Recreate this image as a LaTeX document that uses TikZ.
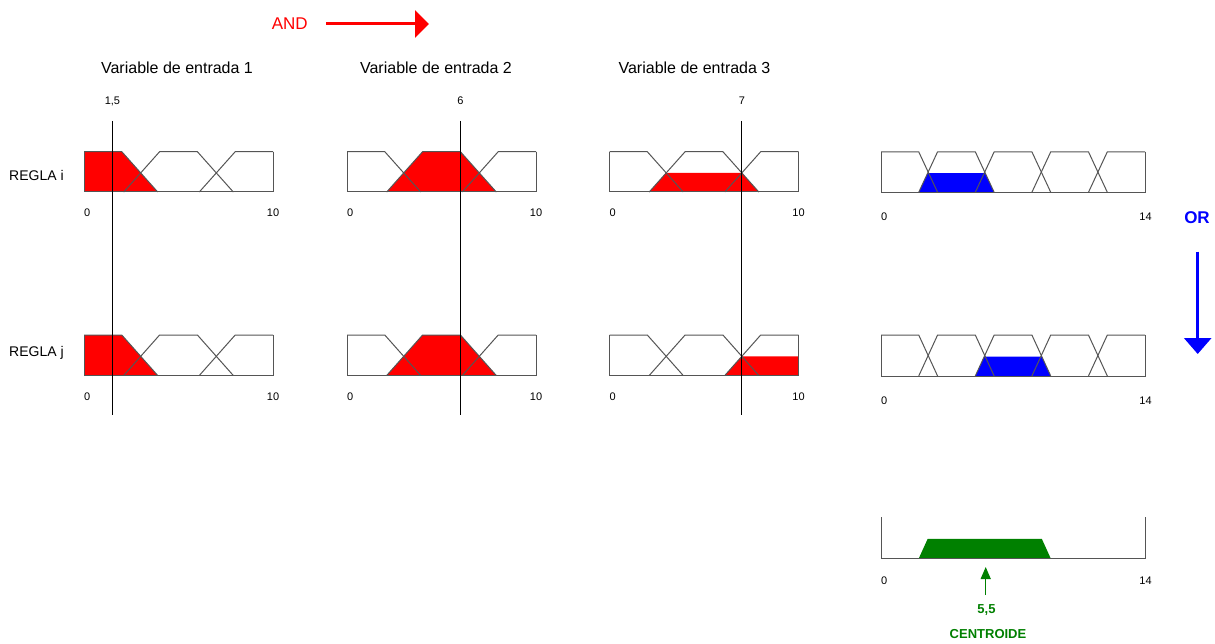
\documentclass[tikz,border=0pt]{standalone}
\usepackage{fontspec}
\setmainfont{Liberation Sans}
\usetikzlibrary{arrows.meta}
\definecolor{mfgray}{HTML}{555555}
\definecolor{okgreen}{HTML}{008000}
\tikzset{
  mfline/.style={draw=mfgray, line width=1pt, line join=round},
  framebox/.style={draw=mfgray, line width=1pt},
  cutline/.style={draw=black, line width=1pt},
  redfill/.style={fill=red, draw=none},
  bluefill/.style={fill=blue, draw=none},
  greenfill/.style={fill=okgreen, draw=none},
  ticklbl/.style={font=\fontsize{11}{11}\selectfont, inner sep=0pt},
  varlbl/.style={font=\fontsize{16}{16}\selectfont, inner sep=0pt},
  rulelbl/.style={font=\fontsize{14}{14}\selectfont, inner sep=0pt, anchor=west},
  opbig/.style={font=\fontsize{17}{17}\selectfont, inner sep=0pt},
  cenlbl/.style={font=\bfseries\fontsize{13}{13}\selectfont, inner sep=0pt, text=okgreen},
}
\newcommand{\inputmfs}{%
  \draw[mfline] (0,1)--(2,1)--(3.9,0);
  \draw[mfline] (2.1,0)--(4,1)--(6,1)--(7.9,0);
  \draw[mfline] (6.1,0)--(8,1)--(10,1);
  \draw[framebox] (0,1)--(0,0)--(10,0)--(10,1);}
\newcommand{\outputmfs}{%
  \draw[mfline] (0,1)--(2,1)--(3,0);
  \draw[mfline] (2,0)--(3,1)--(5,1)--(6,0);
  \draw[mfline] (5,0)--(6,1)--(8,1)--(9,0);
  \draw[mfline] (8,0)--(9,1)--(11,1)--(12,0);
  \draw[mfline] (11,0)--(12,1)--(14,1);
  \draw[framebox] (0,1)--(0,0)--(14,0)--(14,1);}
\begin{document}
\begin{tikzpicture}[x=1pt,y=-1pt]
\useasboundingbox (0,0) rectangle (1215,644);
\fill[white] (0,0) rectangle (1215,644);

% ---- AND / OR operators
\node[opbig, text=red] (andlbl) at (289.7,24) {AND};
\coordinate (andA) at (326,24);
\coordinate (andB) at (429,24);
\draw[red, line width=3pt, -{Triangle[length=14pt,width=27pt]}] (andA) -- (andB);

\node[opbig, text=blue, font=\bfseries\fontsize{17}{17}\selectfont] (orlbl) at (1197,217.5) {OR};
\coordinate (orA) at (1197.7,251.7);
\coordinate (orB) at (1197.7,354);
\draw[blue, line width=3pt, -{Triangle[length=16pt,width=27pt]}] (orA) -- (orB);

% ---- variable titles
\node[varlbl] (v1) at (177,68) {Variable de entrada 1};
\node[varlbl] (v2) at (436,68) {Variable de entrada 2};
\node[varlbl] (v3) at (694.5,68) {Variable de entrada 3};

% ---- rule labels
\node[rulelbl] (ri) at (9,175) {REGLA i};
\node[rulelbl] (rj) at (9,353) {REGLA j};

% ================= Row i =================
\begin{scope}[shift={(84pt,-192pt)}, x=18.9pt, y=40.3pt]
  \fill[redfill] (0,0)--(0,1)--(2,1)--(3.9,0)--cycle;
  \inputmfs
\end{scope}
\begin{scope}[shift={(347pt,-192pt)}, x=18.9pt, y=40.3pt]
  \fill[redfill] (2.1,0)--(4,1)--(6,1)--(7.9,0)--cycle;
  \inputmfs
\end{scope}
\begin{scope}[shift={(609.5pt,-192pt)}, x=18.9pt, y=40.3pt]
  \fill[redfill] (2.1,0)--(3.0,0.4737)--(7.0,0.4737)--(7.9,0)--cycle;
  \inputmfs
\end{scope}
\begin{scope}[shift={(881pt,-192.3pt)}, x=18.86pt, y=40.5pt]
  \fill[bluefill] (2,0)--(2.4737,0.4737)--(5.5263,0.4737)--(6,0)--cycle;
  \outputmfs
\end{scope}

% ================= Row j =================
\begin{scope}[shift={(84pt,-375.5pt)}, x=18.9pt, y=40.5pt]
  \fill[redfill] (0,0)--(0,1)--(2,1)--(3.9,0)--cycle;
  \inputmfs
\end{scope}
\begin{scope}[shift={(347pt,-375.5pt)}, x=18.9pt, y=40.5pt]
  \fill[redfill] (2.1,0)--(4,1)--(6,1)--(7.9,0)--cycle;
  \inputmfs
\end{scope}
\begin{scope}[shift={(609.5pt,-375.5pt)}, x=18.9pt, y=40.5pt]
  \fill[redfill] (6.1,0)--(7.0,0.4737)--(10,0.4737)--(10,0)--cycle;
  \inputmfs
\end{scope}
\begin{scope}[shift={(881pt,-376pt)}, x=18.86pt, y=41pt]
  \fill[bluefill] (5,0)--(5.4737,0.4737)--(8.5263,0.4737)--(9,0)--cycle;
  \outputmfs
\end{scope}

% ================= Aggregated output =================
\begin{scope}[shift={(881pt,-558.5pt)}, x=18.86pt, y=41.5pt]
  \fill[greenfill] (2,0)--(2.4737,0.4737)--(8.5263,0.4737)--(9,0)--cycle;
  \draw[framebox] (0,1)--(0,0)--(14,0)--(14,1);
\end{scope}

% ---- input cut lines
\node[ticklbl] (in1) at (112.4,101) {1,5};
\node[ticklbl] (in2) at (460.4,101) {6};
\node[ticklbl] (in3) at (741.8,101) {7};
\coordinate (c1t) at (112.4,121); \coordinate (c1b) at (112.4,415);
\coordinate (c2t) at (460.4,121); \coordinate (c2b) at (460.4,415);
\coordinate (c3t) at (741.8,121); \coordinate (c3b) at (741.8,415);
\draw[cutline] (c1t) -- (c1b);
\draw[cutline] (c2t) -- (c2b);
\draw[cutline] (c3t) -- (c3b);

% ---- axis tick labels
\node[ticklbl, anchor=west] (a10) at (84,213) {0};
\node[ticklbl] (a11) at (273,213) {10};
\node[ticklbl, anchor=west] (a20) at (347,213) {0};
\node[ticklbl] (a21) at (536,213) {10};
\node[ticklbl, anchor=west] (a30) at (609.5,213) {0};
\node[ticklbl] (a31) at (798.5,213) {10};
\node[ticklbl, anchor=west] (a40) at (881,217) {0};
\node[ticklbl] (a41) at (1145.5,217) {14};

\node[ticklbl, anchor=west] (b10) at (84,397) {0};
\node[ticklbl] (b11) at (273,397) {10};
\node[ticklbl, anchor=west] (b20) at (347,397) {0};
\node[ticklbl] (b21) at (536,397) {10};
\node[ticklbl, anchor=west] (b30) at (609.5,397) {0};
\node[ticklbl] (b31) at (798.5,397) {10};
\node[ticklbl, anchor=west] (b40) at (881,401) {0};
\node[ticklbl] (b41) at (1145.5,401) {14};

\node[ticklbl, anchor=west] (g0) at (881,581) {0};
\node[ticklbl] (g1) at (1145.5,581) {14};

% ---- centroid
\coordinate (cenA) at (985.7,595);
\coordinate (cenB) at (985.7,567);
\draw[okgreen, line width=1.2pt, -{Triangle[length=12pt,width=10pt]}] (cenA) -- (cenB);
\node[cenlbl] (cv) at (986.5,610) {5,5};
\node[cenlbl] (cn) at (988,634) {CENTROIDE};
\end{tikzpicture}
\end{document}
